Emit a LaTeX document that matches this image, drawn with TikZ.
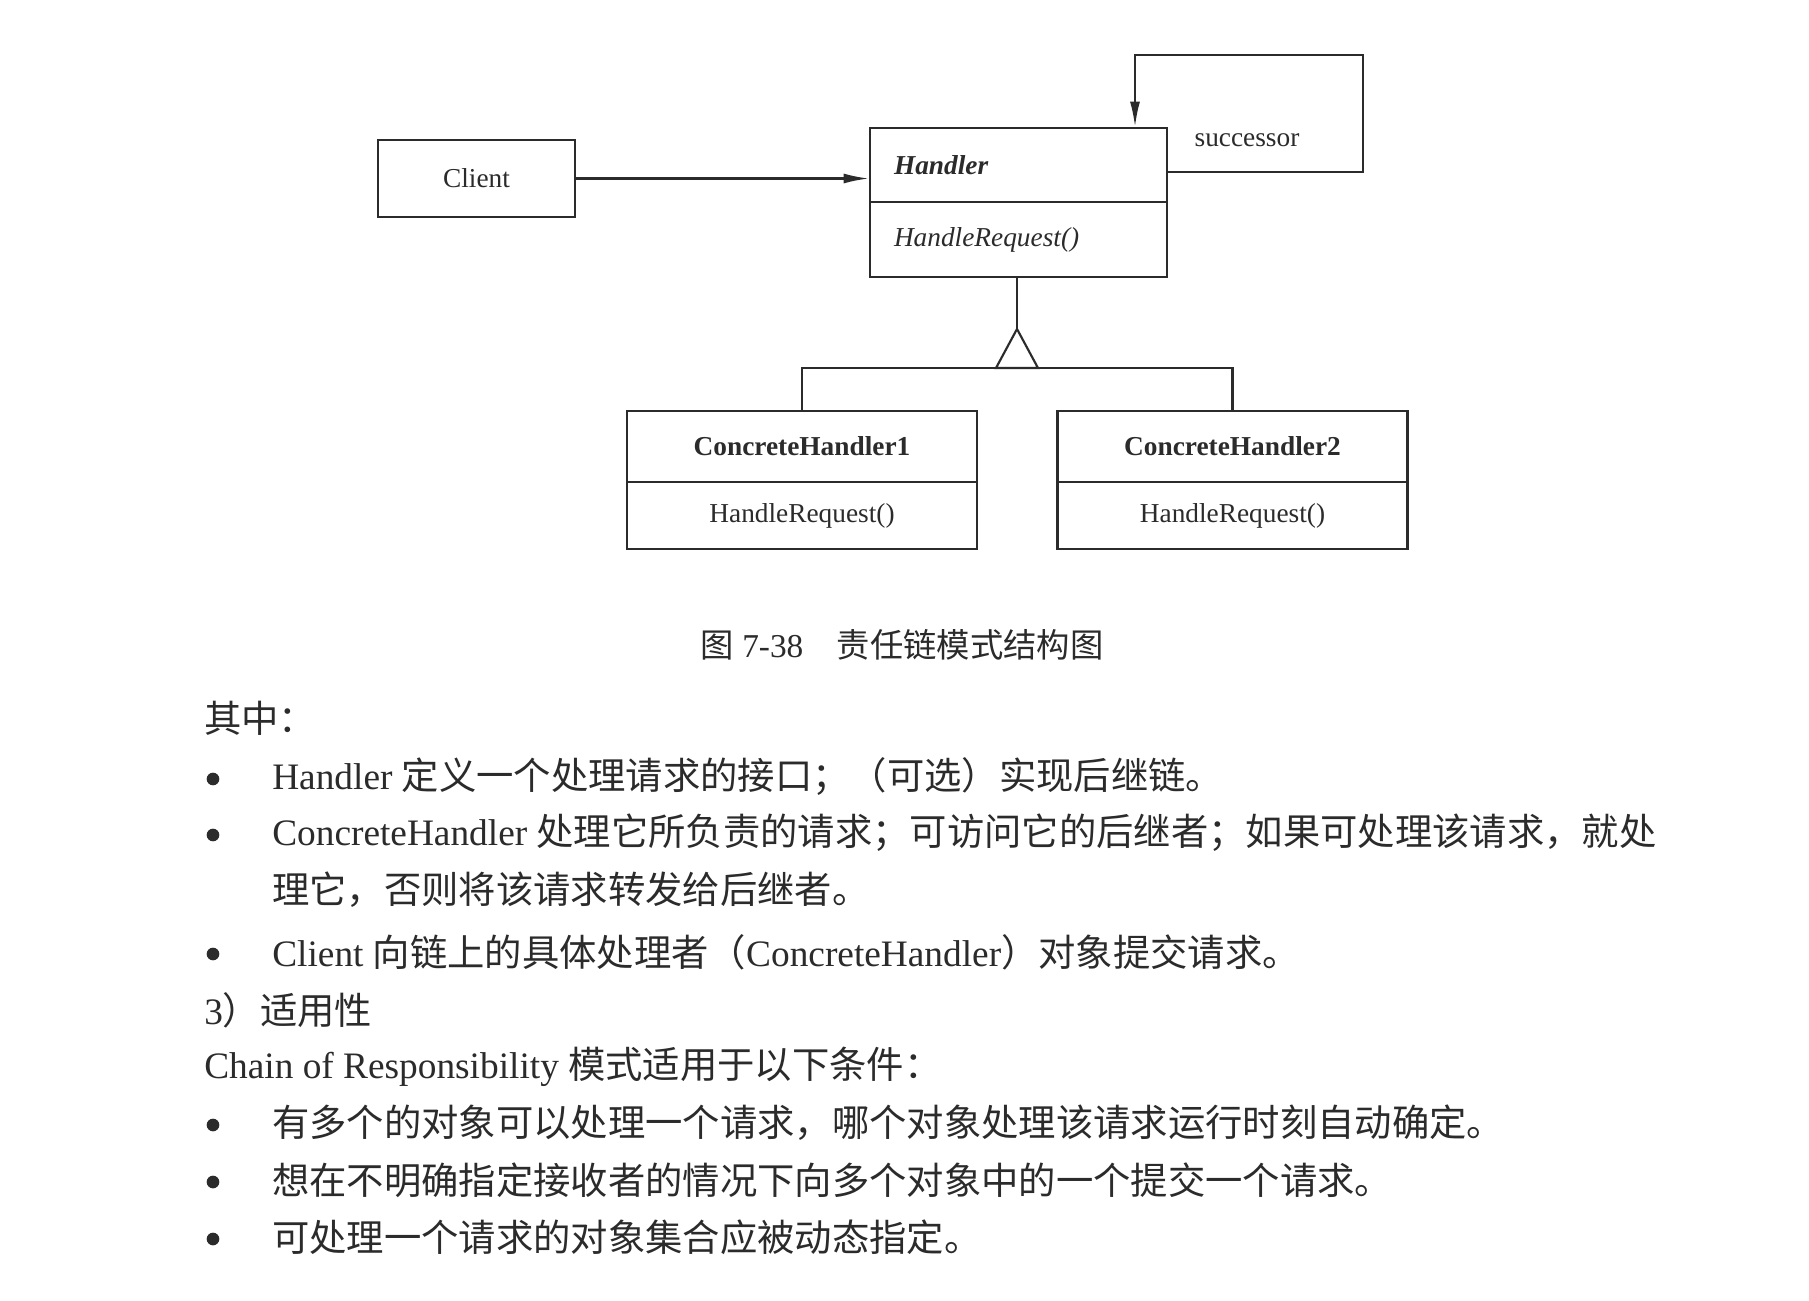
\documentclass[tikz,border=0pt]{standalone}
\usepackage{fontspec}
\setmainfont{Liberation Serif}
\newfontfamily\cjk{Noto Sans CJK SC}
\usetikzlibrary{arrows.meta}
\definecolor{ink}{HTML}{2B2B2B}
\newcommand{\zh}[1]{{\cjk #1}}

\begin{document}
\begin{tikzpicture}[x=0.75pt,y=-0.75pt,
  umlbox/.style={draw=ink,line width=1.6pt,text=ink,inner sep=0pt,font=\fontsize{20.5}{24}\selectfont},
  umltitle/.style={umlbox,font=\fontsize{20.5}{24}\selectfont\bfseries},
  conn/.style={draw=ink,line width=1.6pt},
  arr/.style={conn,-{Latex[length=19pt,width=7.5pt]}},
  body/.style={anchor=west,text=ink,inner sep=0pt,font=\fontsize{28}{34}\selectfont},
  bulletmark/.style={circle,fill=ink,inner sep=0pt,minimum size=9.5pt}]
\fill[white] (0,0) rectangle (1809,1300);
\useasboundingbox (0,0) rectangle (1809,1300);

% classes
\node[umlbox,minimum width=147.75pt,minimum height=57.75pt] (client) at (476.5,178.5) {Client};
\node[umlbox,minimum width=222.75pt,minimum height=55.5pt,text width=186.75pt,align=left] (hname) at (1018.5,165) {\textbf{\textit{Handler}}};
\node[umlbox,minimum width=222.75pt,minimum height=56.25pt,text width=186.75pt,align=left] (hop) at (1018.5,239.5) {\textit{HandleRequest()}};
\node[umltitle,minimum width=262.5pt,minimum height=53.25pt] (ch1name) at (802,446.5) {ConcreteHandler1};
\node[umlbox,minimum width=262.5pt,minimum height=50.25pt] (ch1op) at (802,515.5) {HandleRequest()};
\node[umltitle,minimum width=262.5pt,minimum height=53.25pt] (ch2name) at (1232.5,446.5) {ConcreteHandler2};
\node[umlbox,minimum width=262.5pt,minimum height=50.25pt] (ch2op) at (1232.5,515.5) {HandleRequest()};
\node[text=ink,font=\fontsize{20.5}{24}\selectfont] (succ) at (1247,140) {successor};

% connectors
\draw[arr] (client.east) -- (client.east -| hname.west);
\coordinate (loopr) at (1363,55);
\coordinate (loopl) at (1135,55);
\draw[arr] (hname.east |- 0,172) -| (loopr) -- (loopl) -- (loopl |- hname.north);
\coordinate (apex) at (1017,329);
\coordinate (bar) at (1017,368);
\draw[conn] (hop.south -| apex) -- (apex);
\draw[conn,fill=white] (apex) -- ++(-21,39) -- ++(42,0) -- cycle;
\draw[conn] (ch1name.north) |- (bar) -| (ch2name.north);

% caption and text
\node[text=ink,font=\fontsize{25}{30}\selectfont] (caption) at (902,645) {\zh{图} 7-38\hspace{1em}\zh{责任链模式结构图}};
\node[body] (t0) at (204,718) {\zh{其中：}};
\foreach \y [count=\i] in {779,835,954,1125,1182,1239}
  \node[bulletmark] (b\i) at (213,\y) {};
\node[body] (t1) at (272,777) {Handler \zh{定义一个处理请求的接口；（可选）实现后继链。}};
\node[body] (t2) at (272,833) {ConcreteHandler \zh{处理它所负责的请求；可访问它的后继者；如果可处理该请求，就处}};
\node[body] (t2b) at (272,890) {\zh{理它，否则将该请求转发给后继者。}};
\node[body] (t3) at (272,952) {Client \zh{向链上的具体处理者（}ConcreteHandler\zh{）对象提交请求。}};
\node[body] (t4) at (204,1010) {3\zh{）适用性}};
\node[body] (t5) at (204,1067) {Chain of Responsibility \zh{模式适用于以下条件：}};
\node[body] (t6) at (272,1123) {\zh{有多个的对象可以处理一个请求，哪个对象处理该请求运行时刻自动确定。}};
\node[body] (t7) at (272,1180) {\zh{想在不明确指定接收者的情况下向多个对象中的一个提交一个请求。}};
\node[body] (t8) at (272,1237) {\zh{可处理一个请求的对象集合应被动态指定。}};
\end{tikzpicture}
\end{document}
